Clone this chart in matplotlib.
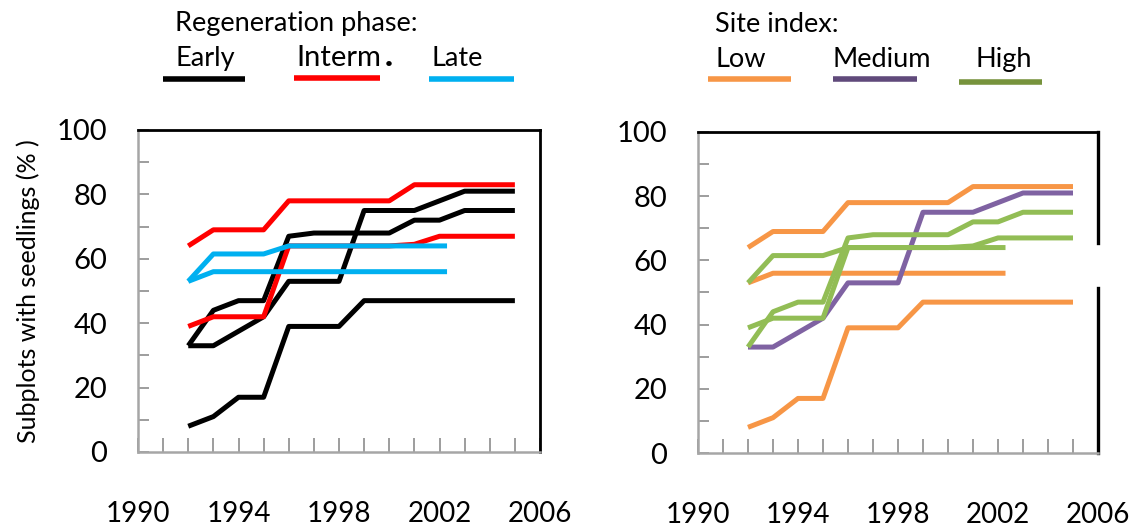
import matplotlib
matplotlib.use('Agg')
import matplotlib.pyplot as plt
from matplotlib.lines import Line2D

# --- Data: seven stands, % of subplots with seedlings per year ---
YEARS_LONG = [1992, 1993, 1994, 1995, 1996, 1997, 1998, 1999, 2000, 2001, 2002, 2003, 2004, 2005]
YEARS_SHORT = [1992, 1993, 1994, 1995, 1996, 1997, 1998, 1999, 2000, 2001, 2002.3]

stand_a = [33, 33, 37.5, 42, 53, 53, 53, 75, 75, 75, 78, 81, 81, 81]
stand_b = [33, 44, 47, 47, 67, 68, 68, 68, 68, 72, 72, 75, 75, 75]
stand_c = [8, 11, 17, 17, 39, 39, 39, 47, 47, 47, 47, 47, 47, 47]
stand_d = [64, 69, 69, 69, 78, 78, 78, 78, 78, 83, 83, 83, 83, 83]
stand_e = [39, 42, 42, 42, 64, 64, 64, 64, 64, 64.5, 67, 67, 67, 67]
stand_f = [53, 61.5, 61.5, 61.5, 64, 64, 64, 64, 64, 64, 64]
stand_g = [53, 56, 56, 56, 56, 56, 56, 56, 56, 56, 56]

# (years, values, regeneration phase, site index)
STANDS = [
    (YEARS_LONG, stand_a, 'Early', 'Medium'),
    (YEARS_LONG, stand_b, 'Early', 'High'),
    (YEARS_LONG, stand_c, 'Early', 'Low'),
    (YEARS_LONG, stand_d, 'Interm', 'Low'),
    (YEARS_LONG, stand_e, 'Interm', 'High'),
    (YEARS_SHORT, stand_f, 'Late', 'High'),
    (YEARS_SHORT, stand_g, 'Late', 'Low'),
]

X_TICKS = [1990, 1994, 1998, 2002, 2006]
Y_TICKS = [0, 20, 40, 60, 80, 100]

# --- Style ---
PHASE_COLORS = {'Early': '#000000', 'Interm': '#ff0000', 'Late': '#00b0f0'}
SITE_COLORS = {'Low': '#f79646', 'Medium': '#7f62a2', 'High': '#92bd55'}
SITE_LEGEND_COLORS = {'Low': '#f79646', 'Medium': '#604a7b', 'High': '#77933c'}
PHASE_ORDER = ['Early', 'Interm', 'Late']
SITE_ORDER = ['Low', 'Medium', 'High']
LINE_W = 3.6
LEG_FS = 19.5

W, H = 1145, 532
plt.rcParams['font.family'] = ['Lato', 'DejaVu Sans']

fig = plt.figure(figsize=(W / 100, H / 100), dpi=100)


def px_axes(x0, y0, x1, y1):
    """Axes from pixel box (top-left origin)."""
    return fig.add_axes([x0 / W, 1 - y1 / H, (x1 - x0) / W, (y1 - y0) / H])


def style_axes(ax, gap=None):
    ax.set_xlim(1990, 2006)
    ax.set_ylim(0, 100)
    ax.set_xticks(range(1990, 2007), minor=True)
    ax.set_xticks(X_TICKS)
    ax.set_yticks(range(0, 101, 10), minor=True)
    ax.set_yticks(Y_TICKS)
    ax.tick_params(which='both', direction='in', color='#8c8c8c', width=1.2)
    ax.tick_params(axis='x', which='major', length=10, pad=35, labelsize=20)
    ax.tick_params(axis='x', which='minor', length=10)
    ax.tick_params(axis='y', which='both', length=8, pad=22, labelsize=21)
    for s in ['left', 'bottom']:
        ax.spines[s].set_color('#a6a6a6')
        ax.spines[s].set_linewidth(1.8)
    ax.spines['top'].set_color('black')
    ax.spines['top'].set_linewidth(2)
    ax.spines['right'].set_color('black')
    ax.spines['right'].set_linewidth(2)
    if gap is not None:
        ax.spines['right'].set_visible(False)
        ax.axvline(2006, 0, gap[0], color='black', lw=2.4, clip_on=False)
        ax.axvline(2006, gap[1], 1, color='black', lw=2.4, clip_on=False)


# --- Left panel: by regeneration phase ---
ax1 = px_axes(138, 130, 540, 452)
for phase in PHASE_ORDER:
    for years, vals, ph, site in STANDS:
        if ph == phase:
            ax1.plot(years, vals, color=PHASE_COLORS[ph], lw=LINE_W, solid_capstyle='butt')
style_axes(ax1)
fig.text(28 / W, 1 - 291 / H, 'Subplots with seedlings (% )', fontsize=18,
         rotation=90, ha='center', va='center')

# --- Right panel: by site index ---
ax2 = px_axes(698, 132, 1098, 453)
for site_name in SITE_ORDER:
    for years, vals, ph, site in STANDS:
        if site == site_name:
            ax2.plot(years, vals, color=SITE_COLORS[site], lw=LINE_W, solid_capstyle='butt')
style_axes(ax2, gap=(0.514, 0.654))


# --- Legends drawn as text + line swatches above the panels ---
def fig_text(x, y, s, **kw):
    fig.text(x / W, 1 - y / H, s, va='baseline', ha='left', **kw)


def fig_line(x0, x1, y, color):
    fig.add_artist(Line2D([x0 / W, x1 / W], [1 - y / H, 1 - y / H],
                          color=color, lw=4, solid_capstyle='butt'))


fig_text(175, 31, 'Regeneration phase:', fontsize=LEG_FS)
fig_text(175, 66, 'Early', fontsize=LEG_FS)
fig_text(296, 66, 'Interm', fontsize=21)
fig_text(385, 66, '.', fontsize=24, fontweight='black')
fig_text(432, 66, 'Late', fontsize=LEG_FS)
fig_line(163, 245, 79, PHASE_COLORS['Early'])
fig_line(294, 380, 78, PHASE_COLORS['Interm'])
fig_line(429, 514, 79, PHASE_COLORS['Late'])

fig_text(715, 32, 'Site index:', fontsize=LEG_FS)
fig_text(716, 67, 'Low', fontsize=LEG_FS)
fig_text(832, 67, 'Medium', fontsize=LEG_FS)
fig_text(975, 67, 'High', fontsize=LEG_FS)
fig_line(708, 791, 79, SITE_LEGEND_COLORS['Low'])
fig_line(833, 917, 79, SITE_LEGEND_COLORS['Medium'])
fig_line(959, 1042, 82, SITE_LEGEND_COLORS['High'])

fig.savefig('out.png', dpi=100)
